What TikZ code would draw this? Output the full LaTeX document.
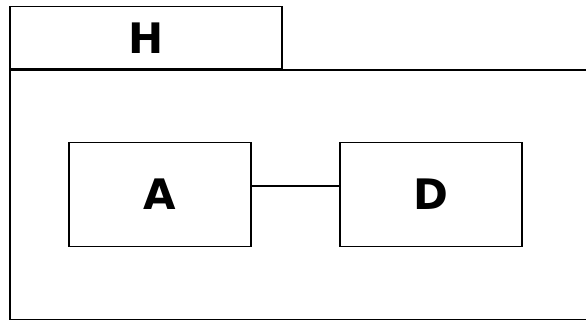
\documentclass[tikz,border=0pt]{standalone}
\usepackage{fontspec}
\setmainfont{DejaVu Sans}
\usetikzlibrary{positioning}
\begin{document}
\begin{tikzpicture}[x=1pt,y=-1pt]
			\tikzset{
				pkgtab/.style={draw, line width=1.6pt, inner sep=0, minimum width=272pt, minimum height=62pt, font=\bfseries\fontsize{42}{48}\selectfont},
				pkgbody/.style={draw, line width=1.6pt, inner sep=0, minimum width=600pt, minimum height=249pt},
				classbox/.style={draw, line width=1.6pt, inner sep=0, minimum width=182pt, minimum height=104pt, font=\bfseries\fontsize{42}{48}\selectfont},
			}
			\useasboundingbox (0,0) rectangle (586,320);
			\node[pkgbody, anchor=north west] (body) at (9,69.5) {};
			\node[pkgtab, anchor=south west] (tab) at (9,69.5) {H};
			\node[classbox] (A) at (160,194.5) {A};
			\node[classbox] (D) at (431,194.5) {D};
			\draw[line width=1.6pt] (A.east |- 0,186) -- (D.west |- 0,186);
		\end{tikzpicture}
\end{document}
